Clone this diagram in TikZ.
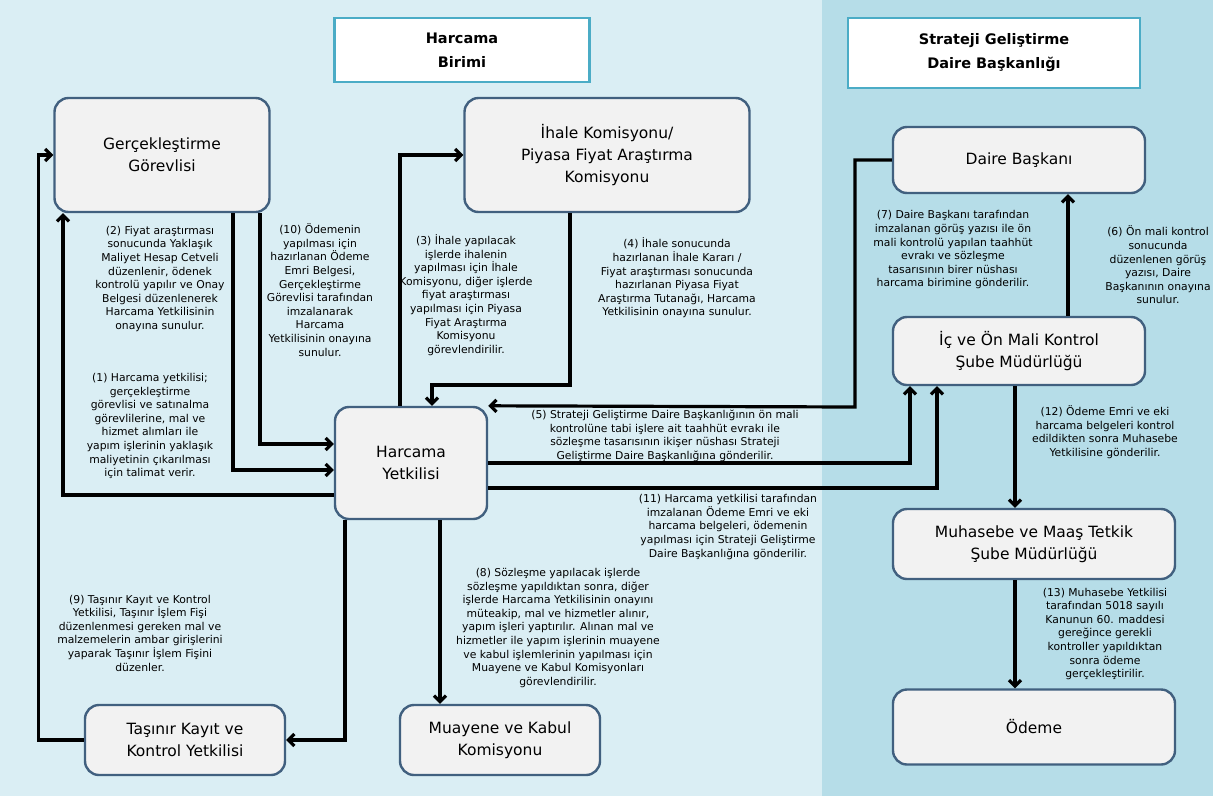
\documentclass[tikz,border=0pt]{standalone}
\usepackage{fontspec}
\setmainfont{DejaVu Sans}
\usetikzlibrary{arrows.meta}
\definecolor{bgleft}{HTML}{DAEEF4}
\definecolor{bgright}{HTML}{B6DDE8}
\definecolor{boxline}{HTML}{41607F}
\definecolor{boxfill}{HTML}{F2F2F2}
\definecolor{titleline}{HTML}{4BACC6}
\tikzset{
  box/.style={draw=boxline, fill=boxfill, rounded corners=14pt, line width=2.4pt,
    align=center, inner sep=0pt, font=\fontsize{15.5}{22}\selectfont},
  titlebox/.style={draw=titleline, fill=white, line width=2.4pt, align=center,
    inner sep=0pt, font=\bfseries\fontsize{14.5}{24}\selectfont},
  note/.style={align=center, inner sep=0pt, font=\fontsize{10.8}{13.6}\selectfont},
  arr/.style={-{Straight Barb[length=6pt,width=12pt]}, line width=3.2pt, black}
}
\begin{document}
\begin{tikzpicture}[x=1pt,y=-1pt]
    % backgrounds
    \fill[bgleft] (0,0) rectangle (822,796);
    \fill[bgright] (822,0) rectangle (1213,796);

    % titles
    \node[titlebox, minimum width=255, minimum height=64] (hb) at (462,50) {Harcama\\Birimi};
    \node[titlebox, minimum width=292, minimum height=70] (sg) at (994,53) {Strateji Geliştirme\\Daire Başkanlığı};

    % boxes
    \node[box, minimum width=215, minimum height=114] (gg) at (162,155) {Gerçekleştirme\\Görevlisi};
    \node[box, minimum width=285, minimum height=114] (ik) at (607,155) {İhale Komisyonu/\\Piyasa Fiyat Araştırma\\Komisyonu};
    \node[box, minimum width=252, minimum height=66] (db) at (1019,160) {Daire Başkanı};
    \node[box, minimum width=252, minimum height=68] (ic) at (1019,351) {İç ve Ön Mali Kontrol\\Şube Müdürlüğü};
    \node[box, minimum width=152, minimum height=112] (hy) at (411,463) {Harcama\\Yetkilisi};
    \node[box, minimum width=282, minimum height=70] (mm) at (1034,544) {Muhasebe ve Maaş Tetkik\\Şube Müdürlüğü};
    \node[box, minimum width=282, minimum height=75] (od) at (1034,727) {Ödeme};
    \node[box, minimum width=200, minimum height=70] (tk) at (185,740) {Taşınır Kayıt ve\\Kontrol Yetkilisi};
    \node[box, minimum width=200, minimum height=70] (mk) at (500,740) {Muayene ve Kabul\\Komisyonu};

    % connectors
    \draw[arr] (hy.west |- 0,495) -| (gg.south -| 63,0);
    \draw[arr] (gg.south -| 233,0) |- (hy.west |- 0,470);
    \draw[arr] (gg.south -| 260,0) |- (hy.west |- 0,444);
    \draw[arr] (tk.west) -| ([xshift=-15pt]gg.west) -- (gg.west);
    \draw[arr] (hy.south -| 345,0) |- (tk.east);
    \draw[arr] (hy.north -| 400,0) |- (ik.west);
    \draw[arr] (ik.south -| 570,0) -- (570,385) -| (hy.north -| 432,0);
    \draw[arr] (db.west) -| (855,407) -- (hy.north east);
    \draw[arr] (hy.east |- 0,463) -| (ic.south -| 910,0);
    \draw[arr] (hy.east |- 0,488) -| (ic.south -| 937,0);
    \draw[arr] (ic.north -| 1068,0) -- (db.south -| 1068,0);
    \draw[arr] (ic.south -| 1015,0) -- (mm.north -| 1015,0);
    \draw[arr] (mm.south -| 1015,0) -- (od.north -| 1015,0);
    \draw[arr] (hy.south -| 440,0) -- (mk.north -| 440,0);

    % step texts
    \node[note] (t2) at (160,279) {(2) Fiyat araştırması\\sonucunda Yaklaşık\\Maliyet Hesap Cetveli\\düzenlenir, ödenek\\kontrolü yapılır  ve Onay\\Belgesi düzenlenerek\\Harcama Yetkilisinin\\onayına sunulur.};
    \node[note] (t10) at (320,290) {(10) Ödemenin\\yapılması için\\hazırlanan Ödeme\\Emri Belgesi,\\Gerçekleştirme\\Görevlisi tarafından\\imzalanarak\\Harcama\\Yetkilisinin onayına\\sunulur.};
    \node[note] (t3) at (466,295) {(3) İhale yapılacak\\işlerde ihalenin\\yapılması için İhale\\Komisyonu, diğer işlerde\\fiyat araştırması\\yapılması için Piyasa\\Fiyat Araştırma\\Komisyonu\\görevlendirilir.};
    \node[note] (t4) at (677,278) {(4) İhale sonucunda\\hazırlanan İhale Kararı /\\Fiyat araştırması sonucunda\\hazırlanan Piyasa Fiyat\\Araştırma Tutanağı, Harcama\\Yetkilisinin  onayına sunulur.};
    \node[note] (t1) at (150,426) {(1) Harcama yetkilisi;\\gerçekleştirme\\görevlisi ve satınalma\\görevlilerine, mal  ve\\hizmet alımları ile\\yapım işlerinin yaklaşık\\maliyetinin çıkarılması\\için talimat verir.};
    \node[note] (t5) at (665,436) {(5) Strateji Geliştirme  Daire Başkanlığının  ön mali\\kontrolüne tabi işlere ait taahhüt evrakı ile\\sözleşme tasarısının ikişer nüshası Strateji\\Geliştirme Daire Başkanlığına gönderilir.};
    \node[note] (t11) at (728,527) {(11) Harcama yetkilisi tarafından\\imzalanan Ödeme Emri  ve eki\\harcama belgeleri, ödemenin\\yapılması için Strateji Geliştirme\\Daire Başkanlığına gönderilir.};
    \node[note] (t8) at (558,628) {(8) Sözleşme  yapılacak işlerde\\sözleşme yapıldıktan sonra, diğer\\işlerde Harcama Yetkilisinin  onayını\\müteakip, mal ve hizmetler alınır,\\yapım işleri yaptırılır. Alınan mal ve\\hizmetler ile yapım işlerinin muayene\\ve kabul işlemlerinin yapılması için\\Muayene ve Kabul Komisyonları\\görevlendirilir.};
    \node[note] (t9) at (140,633) {(9) Taşınır Kayıt ve Kontrol\\Yetkilisi, Taşınır İşlem Fişi\\düzenlenmesi gereken mal ve\\malzemelerin  ambar girişlerini\\yaparak Taşınır İşlem Fişini\\düzenler.};
    \node[note] (t7) at (953,250) {(7) Daire Başkanı tarafından\\imzalanan görüş yazısı ile ön\\mali  kontrolü yapılan taahhüt\\evrakı ve sözleşme\\tasarısının birer nüshası\\harcama birimine  gönderilir.};
    \node[note] (t6) at (1158,265) {(6) Ön mali  kontrol\\sonucunda\\düzenlenen görüş\\yazısı, Daire\\Başkanının onayına\\sunulur.};
    \node[note] (t12) at (1105,432) {(12) Ödeme Emri  ve eki\\harcama belgeleri kontrol\\edildikten sonra Muhasebe\\Yetkilisine gönderilir.};
    \node[note] (t13) at (1105,634) {(13) Muhasebe Yetkilisi\\tarafından 5018 sayılı\\Kanunun 60. maddesi\\gereğince gerekli\\kontroller yapıldıktan\\sonra ödeme\\gerçekleştirilir.};
\end{tikzpicture}
\end{document}
